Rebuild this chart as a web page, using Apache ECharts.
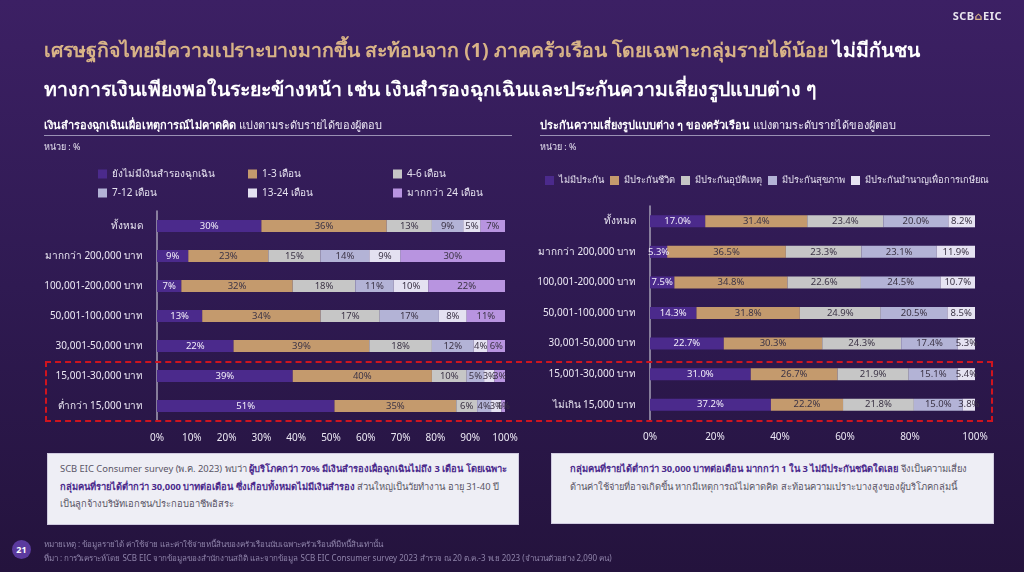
<!DOCTYPE html>
<html><head><meta charset="utf-8">
<script src="https://cdn.jsdelivr.net/npm/echarts@6/dist/echarts.min.js"></script>
<style>
html,body{margin:0;padding:0;width:1024px;height:572px;overflow:hidden;}
body{background:linear-gradient(180deg,#3c2064 0%,#2f1a52 50%,#24133d 100%);font-family:"Noto Sans","DejaVu Sans",sans-serif;position:relative;}
#chart{position:absolute;left:0;top:0;width:1024px;height:572px;}
.t{position:absolute;white-space:nowrap;}
#title1{left:44px;top:35px;font-size:19.5px;font-weight:bold;color:#d8b387;}
#title2{left:44px;top:74px;font-size:19.5px;font-weight:bold;color:#ffffff;}
.sub{font-size:11px;color:#eeeaf6;}
.sub b{color:#fff;}
.unit{font-size:9px;color:#e6e2f0;}
.rule{position:absolute;height:1px;background:#9a90b4;}
.box{position:absolute;background:#eeeef5;border:1px solid #cfcadf;box-sizing:border-box;font-size:9.4px;color:#5a5566;line-height:17.5px;padding:6px 10px 6px 12px;}
.box b{color:#4b2a8c;}
.foot{font-size:8px;color:#8f84aa;}
#logo{right:22px;top:8px;font-size:11px;font-weight:bold;color:#e8e4ee;letter-spacing:0.5px;}
#logo span{color:#d8b387;}
#pg{position:absolute;left:12px;top:540px;width:19px;height:19px;border-radius:50%;background:#5b3a9e;color:#fff;font-size:9px;font-weight:bold;text-align:center;line-height:19px;}
#dash{position:absolute;left:45px;top:361px;width:948px;height:61px;border:2px dashed #d0141e;box-sizing:border-box;}
</style></head>
<body>
<div id="chart"></div>
<div class="t" id="logo">SCB<span>⌂</span>EIC</div>
<div class="t" id="title1">เศรษฐกิจไทยมีความเปราะบางมากขึ้น สะท้อนจาก (1) ภาคครัวเรือน โดยเฉพาะกลุ่มรายได้น้อย <span style="color:#fff">ไม่มีกันชน</span></div>
<div class="t" id="title2">ทางการเงินเพียงพอในระยะข้างหน้า เช่น เงินสำรองฉุกเฉินและประกันความเสี่ยงรูปแบบต่าง ๆ</div>

<div class="t sub" style="left:44px;top:116px;"><b>เงินสำรองฉุกเฉินเผื่อเหตุการณ์ไม่คาดคิด</b> แบ่งตามระดับรายได้ของผู้ตอบ</div>
<div class="rule" style="left:44px;top:135px;width:468px;"></div>
<div class="t unit" style="left:44px;top:140px;">หน่วย : %</div>

<div class="t sub" style="left:540px;top:116px;"><b>ประกันความเสี่ยงรูปแบบต่าง ๆ ของครัวเรือน</b> แบ่งตามระดับรายได้ของผู้ตอบ</div>
<div class="rule" style="left:540px;top:135px;width:450px;"></div>
<div class="t unit" style="left:540px;top:140px;">หน่วย : %</div>

<div id="dash"></div>

<div class="box" style="left:47px;top:453px;width:472px;height:72px;">SCB EIC Consumer survey (พ.ค. 2023) พบว่า <b>ผู้บริโภคกว่า 70% มีเงินสำรองเผื่อฉุกเฉินไม่ถึง 3 เดือน โดยเฉพาะกลุ่มคนที่รายได้ต่ำกว่า 30,000 บาทต่อเดือน ซึ่งเกือบทั้งหมดไม่มีเงินสำรอง</b> ส่วนใหญ่เป็นวัยทำงาน อายุ 31-40 ปี เป็นลูกจ้างบริษัทเอกชน/ประกอบอาชีพอิสระ</div>
<div class="box" style="left:551px;top:453px;width:443px;height:71px;padding-left:18px;padding-right:6px;"><b>กลุ่มคนที่รายได้ต่ำกว่า 30,000 บาทต่อเดือน มากกว่า 1 ใน 3 ไม่มีประกันชนิดใดเลย</b> จึงเป็นความเสี่ยง<br>ด้านค่าใช้จ่ายที่อาจเกิดขึ้น หากมีเหตุการณ์ไม่คาดคิด สะท้อนความเปราะบางสูงของผู้บริโภคกลุ่มนี้</div>

<div id="pg">21</div>
<div class="t foot" style="left:44px;top:538px;">หมายเหตุ : ข้อมูลรายได้ ค่าใช้จ่าย และค่าใช้จ่ายหนี้สินของครัวเรือนนับเฉพาะครัวเรือนที่มีหนี้สินเท่านั้น</div>
<div class="t foot" style="left:44px;top:552px;">ที่มา : การวิเคราะห์โดย SCB EIC จากข้อมูลของสำนักงานสถิติ และจากข้อมูล SCB EIC Consumer survey 2023 สำรวจ ณ 20 ต.ค.-3 พ.ย 2023 (จำนวนตัวอย่าง 2,090 คน)</div>

<script>
// ---- Left chart data: emergency savings ----
const categoriesL = ['ทั้งหมด','มากกว่า 200,000 บาท','100,001-200,000 บาท','50,001-100,000 บาท','30,001-50,000 บาท','15,001-30,000 บาท','ต่ำกว่า 15,000 บาท'];
const seriesNamesL = ['ยังไม่มีเงินสำรองฉุกเฉิน','1-3 เดือน','4-6 เดือน','7-12 เดือน','13-24 เดือน','มากกว่า 24 เดือน'];
const noSavings = [30, 9, 7, 13, 22, 39, 51];
const m1to3     = [36, 23, 32, 34, 39, 40, 35];
const m4to6     = [13, 15, 18, 17, 18, 10, 6];
const m7to12    = [9, 14, 11, 17, 12, 5, 4];
const m13to24   = [5, 9, 10, 8, 4, 3, 3];
const mOver24   = [7, 30, 22, 11, 6, 3, 1];
const ticksL = 10;

// ---- Right chart data: insurance ----
const categoriesR = ['ทั้งหมด','มากกว่า 200,000 บาท','100,001-200,000 บาท','50,001-100,000 บาท','30,001-50,000 บาท','15,001-30,000 บาท','ไม่เกิน 15,000 บาท'];
const seriesNamesR = ['ไม่มีประกัน','มีประกันชีวิต','มีประกันอุบัติเหตุ','มีประกันสุขภาพ','มีประกันบำนาญเพื่อการเกษียณ'];
const noIns     = [17.0, 5.3, 7.5, 14.3, 22.7, 31.0, 37.2];
const lifeIns   = [31.4, 36.5, 34.8, 31.8, 30.3, 26.7, 22.2];
const accIns    = [23.4, 23.3, 22.6, 24.9, 24.3, 21.9, 21.8];
const healthIns = [20.0, 23.1, 24.5, 20.5, 17.4, 15.1, 15.0];
const pensionIns= [8.2, 11.9, 10.7, 8.5, 5.3, 5.4, 3.8];
const ticksR = 20;

const colorsL = ['#4b2a8c','#c49a6d','#c6c6c6','#b3b3d6','#e4e1f1','#b894e0'];
const colorsR = ['#4b2a8c','#c49a6d','#c6c6c6','#b3b3d6','#e6e3f2'];
const dataL = [noSavings, m1to3, m4to6, m7to12, m13to24, mOver24];
const dataR = [noIns, lifeIns, accIns, healthIns, pensionIns];

const FONT = '"Noto Sans","DejaVu Sans",sans-serif';
const chart = echarts.init(document.getElementById('chart'), null, {renderer:'canvas'});

function yAxis(gi, cats){
  return {type:'category', gridIndex:gi, data:cats, inverse:true,
    axisLine:{show:true, lineStyle:{color:'#a6a0b6', width:1.5}}, axisTick:{show:false},
    axisLabel:{color:'#ece8f4', fontSize:10, fontFamily:FONT, margin:14}};
}
function xAxis(gi, step){
  return {type:'value', gridIndex:gi, min:0, max:100, interval:step,
    axisLine:{show:false}, axisTick:{show:false}, splitLine:{show:false},
    axisLabel:{color:'#ece8f4', fontSize:10, fontFamily:FONT, margin:12, formatter:'{value}%'}};
}
const series = [];
dataL.forEach((d,i)=>series.push({
  name:seriesNamesL[i], type:'bar', stack:'L', xAxisIndex:0, yAxisIndex:0, barWidth:12,
  data:d, itemStyle:{color:colorsL[i]},
  label:{show:true, position:'inside', fontSize:9.5, fontFamily:FONT,
    color: i===0 ? '#f2eefa' : '#3c3446', formatter:p=>p.value+'%'}
}));
dataR.forEach((d,i)=>series.push({
  name:seriesNamesR[i], type:'bar', stack:'R', xAxisIndex:1, yAxisIndex:1, barWidth:12,
  data:d, itemStyle:{color:colorsR[i]},
  label:{show:true, position:'inside', fontSize:9.5, fontFamily:FONT,
    color: i===0 ? '#f2eefa' : '#3c3446', formatter:p=>p.value.toFixed(1)+'%'}
}));

const legTxt = {color:'#e6e2f0', fontSize:10, fontFamily:FONT};
const legPos = [[93,164],[243,164],[388,164],[93,183],[243,183],[388,183]];
const legends = seriesNamesL.map((n,i)=>({data:[n], left:legPos[i][0], top:legPos[i][1],
  icon:'rect', itemWidth:9, itemHeight:9, itemGap:6, textStyle:legTxt, selectedMode:false}));
legends.push({data:seriesNamesR, left:545, top:176, width:480, icon:'rect', itemWidth:9, itemHeight:9,
  itemGap:6, textStyle:{color:'#e6e2f0', fontSize:9.3, fontFamily:FONT}, selectedMode:false, padding:0});

chart.setOption({
  animation:false,
  grid:[{left:157, top:211, width:348, height:210},
        {left:650, top:206, width:325, height:214}],
  legend:legends,
  xAxis:[xAxis(0,ticksL), xAxis(1,ticksR)],
  yAxis:[yAxis(0,categoriesL), yAxis(1,categoriesR)],
  series:series
});
</script>
</body></html>
